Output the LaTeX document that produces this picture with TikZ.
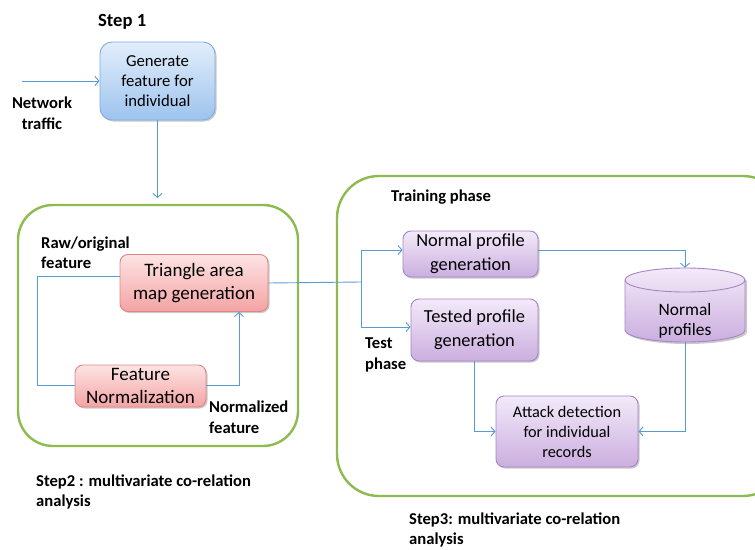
\documentclass[tikz,border=0pt]{standalone}
\usepackage{fontspec}
\setmainfont{Carlito}
\usetikzlibrary{arrows.meta,shadows,calc}
\definecolor{grn}{HTML}{8CBB4F}
\definecolor{lnc}{HTML}{5A9BD4}
\definecolor{bltop}{HTML}{E2EEFB}
\definecolor{blbot}{HTML}{9DC3EE}
\definecolor{blbrd}{HTML}{7FAEDC}
\definecolor{rdtop}{HTML}{FDE4E4}
\definecolor{rdbot}{HTML}{F4A3A3}
\definecolor{rdbrd}{HTML}{E08585}
\definecolor{pptop}{HTML}{F3EAF9}
\definecolor{ppbot}{HTML}{CBAEDF}
\definecolor{ppbrd}{HTML}{A486C4}
\tikzset{
  boxbase/.style={rectangle, rounded corners=8pt, line width=0.9pt, align=center, inner sep=1pt,
    drop shadow={shadow xshift=1.5pt, shadow yshift=-1.5pt, opacity=0.35, fill=black!60}},
  blbox/.style={boxbase, draw=blbrd, top color=bltop, bottom color=blbot, rounded corners=12pt,
    font=\fontsize{16.7}{20}\selectfont},
  rdbox/.style={boxbase, draw=rdbrd, top color=rdtop, bottom color=rdbot,
    font=\fontsize{19}{23}\selectfont},
  ppbox/.style={boxbase, draw=ppbrd, top color=pptop, bottom color=ppbot,
    font=\fontsize{18.4}{24}\selectfont},
  attbox/.style={boxbase, draw=ppbrd, top color=pptop, bottom color=ppbot,
    font=\fontsize{16.3}{20}\selectfont},
  grnbox/.style={draw=grn, line width=2.4pt},
  lbl/.style={font=\bfseries\fontsize{16.6}{20.5}\selectfont, align=left, inner sep=0pt},
  wire/.style={draw=lnc, line width=0.9pt},
  conn/.style={wire, -{Straight Barb[length=4pt,width=9pt]}},
}
\begin{document}
\begin{tikzpicture}[x=1pt,y=-1pt]
\useasboundingbox (0,0) rectangle (755,549);

% green containers
\draw[grnbox, rounded corners=35pt] (18,205) rectangle (298,446);
\draw[grnbox, rounded corners=42pt] (337,176) rectangle (785,496);

% step 1
\node[lbl, font=\bfseries\fontsize{18.6}{20}\selectfont, anchor=west] (s1) at (98,22) {Step 1};
\node[blbox, minimum width=115pt, minimum height=78pt] (gen) at (157.5,81) {Generate\\feature for\\individual};
\coordinate (nt) at (22,81);
\node[lbl, align=center] (ntl) at (42,113) {Network\\traffic};
\draw[conn] (nt) -- (gen.west);
\coordinate (genend) at (157.5,198);
\draw[conn] (gen.south) -- (genend);

% step 2
\node[rdbox, minimum width=148pt, minimum height=57pt] (tri) at (194,283) {Triangle area\\map generation};
\node[rdbox, minimum width=131pt, minimum height=42pt] (norm) at (140.5,386) {Feature\\Normalization};
\node[lbl, anchor=west] (raw) at (41,252.5) {Raw/original\\feature};
\node[lbl, anchor=west] (nfl) at (209,417) {Normalized\\feature};
\draw[wire] ([yshift=7pt]tri.west) -- ++(-82,0) |- ([yshift=1pt]norm.west);
\draw[conn] ([yshift=1pt]norm.east) -| ([xshift=45pt]tri.south);
\node[lbl, anchor=west] (s2) at (36,492) {Step2 : multivariate co-relation\\analysis};

% step 3
\node[lbl, anchor=west] (trn) at (391,197) {Training phase};
\node[lbl, anchor=west] (tstl) at (365,355) {Test\\phase};
\node[ppbox, minimum width=135pt, minimum height=46pt] (npg) at (470.5,254) {Normal profile\\generation};
\node[ppbox, minimum width=127pt, minimum height=62pt] (tst) at (474.5,330) {Tested profile\\generation};
\node[attbox, minimum width=142pt, minimum height=71pt] (att) at (567,431.5) {Attack detection\\for individual\\records};

% cylinder
\fill[black!60, opacity=0.35] (627,282) -- (627,332) arc[start angle=180,end angle=0,x radius=60,y radius=12]
  -- (747,282) arc[start angle=0,end angle=-180,x radius=60,y radius=12] -- cycle;
\draw[line width=0.9pt, draw=ppbrd, top color=pptop, bottom color=ppbot]
  (625,280) -- (625,330) arc[start angle=180,end angle=0,x radius=60,y radius=12]
  -- (745,280) arc[start angle=0,end angle=-180,x radius=60,y radius=12] -- cycle;
\draw[line width=0.9pt, draw=ppbrd] (625,280) arc[start angle=180,end angle=0,x radius=60,y radius=12];
\node[rectangle, minimum width=120pt, minimum height=74pt, inner sep=0pt] (np) at (685,305) {};
\node[font=\fontsize{17.4}{20}\selectfont, align=center] (npt) at (685,321) {Normal\\profiles};

\coordinate (j) at (361,282);
\draw[wire] (tri.east) -- (j);
\draw[conn] (j) |- ([yshift=4pt]npg.west);
\draw[conn] (j) |- ([yshift=3pt]tst.west);
\draw[conn] ([yshift=4pt]npg.east) -| (np.north);
\draw[conn] (np.south) |- (att.east);
\draw[conn] (tst.south) |- (att.west);

\node[lbl, anchor=west, font=\bfseries\fontsize{16.6}{20}\selectfont] (s3) at (409,529.5) {Step3: multivariate co-relation\\analysis};
\end{tikzpicture}
\end{document}
